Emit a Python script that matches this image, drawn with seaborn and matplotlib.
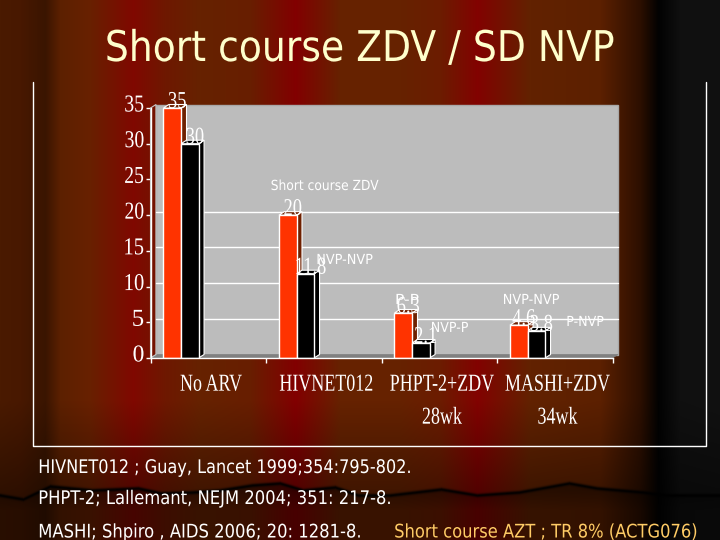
import numpy as np
import pandas as pd
import matplotlib
matplotlib.use("Agg")
import matplotlib.pyplot as plt
import seaborn as sns
from matplotlib.patches import Polygon
from matplotlib.lines import Line2D
from matplotlib.patheffects import AbstractPathEffect
from matplotlib.transforms import Affine2D, ScaledTranslation

# ---- data ----
studies = ["No ARV", "HIVNET012", "PHPT-2+ZDV\n28wk", "MASHI+ZDV\n34wk"]
short_course = [35, 20, 6.3, 4.6]
nvp_arm = [30, 11.8, 2.1, 3.8]
series_names = ["Short course ZDV", "NVP"]
y_ticks = [0, 5, 10, 15, 20, 25, 30, 35]
grid_values = [5, 10, 15, 20]
title = "Short course ZDV / SD NVP"

W, H = 720, 540
sns.set_theme(style="white")
plt.rcParams["font.family"] = ["DejaVu Sans"]


class Fit(AbstractPathEffect):
    """Squeeze a text horizontally (the reference type is very tightly set)."""
    def __init__(self, width=None, sx=None, anchor="center"):
        super().__init__()
        self.width, self.sx, self.anchor = width, sx, anchor

    def draw_path(self, renderer, gc, tpath, affine, rgbFace=None):
        bb = tpath.get_extents(affine)
        sx = self.sx if self.sx else self.width / max(bb.width, 1e-6)
        cx = {"left": bb.x0, "right": bb.x1, "center": (bb.x0 + bb.x1) / 2}[self.anchor]
        new = affine + Affine2D().translate(-cx, 0).scale(sx, 1).translate(cx, 0)
        renderer.draw_path(gc, tpath, new, rgbFace)


fig = plt.figure(figsize=(W / 100, H / 100), dpi=100)

# ---- curtain background ----
bg = fig.add_axes([0, 0, 1, 1], zorder=-5)
xs = np.arange(W)
stops_x = [0, 20, 45, 60, 90, 133, 165, 200, 250, 295, 340, 400, 440, 477, 530, 600, 640, 658, 680, 720]
stops_c = np.array([
    [0x4a, 0x1a, 0x00], [0x48, 0x18, 0x00], [0x3a, 0x15, 0x00], [0x5c, 0x20, 0x00], [0x68, 0x20, 0x00],
    [0x80, 0x08, 0x00], [0x6e, 0x18, 0x00], [0x66, 0x22, 0x00], [0x68, 0x1e, 0x00], [0x82, 0x00, 0x00],
    [0x66, 0x22, 0x00], [0x66, 0x22, 0x00], [0x6c, 0x1c, 0x00], [0x82, 0x02, 0x00], [0x62, 0x22, 0x00],
    [0x5c, 0x20, 0x00], [0x2c, 0x0f, 0x00], [0x02, 0x02, 0x02], [0x10, 0x10, 0x10], [0x11, 0x11, 0x11]], float)
row = np.stack([np.interp(xs, stops_x, stops_c[:, i]) for i in range(3)], axis=1)
ys = np.arange(H)[:, None]
edge_x = [0, 23, 50, 92, 138, 161, 193, 220, 252, 280, 303, 335, 358, 390, 441, 477, 519, 569, 597, 643, 666, 720]
edge_y = [495, 499, 486, 490, 488, 493, 492, 490, 485, 483, 490, 487, 495, 495, 489, 495, 492, 483, 488, 492, 495, 495]
edge = np.interp(xs, edge_x, edge_y)[None, :]
shade = np.interp(ys, [0, 400, 495], [1.0, 1.0, 0.62]) * np.ones((H, W))
below = ys > edge
shade[below] = (np.interp(ys * np.ones((H, W)), [490, 510, 540], [0.4, 0.55, 0.55]))[below]
dark = np.exp(-((ys - edge) / 1.8) ** 2)
shade = shade * (1 - 0.9 * dark)
img = (row[None, :, :] * shade[:, :, None]).clip(0, 255).astype(np.uint8)
bg.imshow(img, aspect="auto", extent=(0, W, H, 0), interpolation="bilinear")
bg.axis("off")

# ---- chart ----
L, R, T, B = 150.5, 612.5, 108, 358
ax = fig.add_axes([L / W, (H - B) / H, (R - L) / W, (B - T) / H], facecolor="none")
df = pd.DataFrame({
    "study": studies * 2,
    "value": short_course + nvp_arm,
    "arm": [series_names[0]] * 4 + [series_names[1]] * 4,
})
sns.barplot(data=df, x="study", y="value", hue="arm", palette=["#ff3300", "#000000"],
            width=0.304, gap=0, saturation=1, errorbar=None, legend=False, ax=ax,
            edgecolor="white", linewidth=1, zorder=4)

xmin = (L - 181) / 115.5
xmax = xmin + 4
ax.set_xlim(xmin, xmax)
ax.set_ylim(0, 35)
ax.set_xlabel("")
ax.set_ylabel("")
px_x = (xmax - xmin) / (R - L)
px_y = 35 / (B - T)
dx, dy = 5.5 * px_x, 3.5 * px_y

# back wall, floor, side panel
ax.add_patch(Polygon([(xmin + dx, dy), (xmax + dx, dy), (xmax + dx, 35 + dy), (xmin + dx, 35 + dy)],
                     closed=True, fc="#bcbcbc", ec="#a8a8a8", lw=1, zorder=0.5, clip_on=False))
ax.add_patch(Polygon([(xmin, 0), (xmax, 0), (xmax + dx, dy), (xmin + dx, dy)],
                     closed=True, fc="#808080", ec="#808080", lw=0.5, zorder=0.7, clip_on=False))
ax.add_patch(Polygon([(xmin, 0), (xmin + dx, dy), (xmin + dx, 35 + dy), (xmin, 35)],
                     closed=True, fc="none", ec="#c8c8c8", lw=0.8, zorder=0.7, clip_on=False))
for v in grid_values:
    ax.plot([xmin + dx, xmax + dx], [v + dy, v + dy], color="white", lw=1, zorder=1, clip_on=False)

# 3-D sides of bars and value labels
for p in ax.patches:
    if not hasattr(p, "get_width") or p.get_zorder() != 4:
        continue
    x0, w, h = p.get_x(), p.get_width(), p.get_height()
    red = p.get_facecolor()[0] > 0.5
    fc = "#6e2000" if red else "#000000"
    ax.add_patch(Polygon([(x0 + w, 0), (x0 + w + dx, dy), (x0 + w + dx, h + dy), (x0 + w, h)],
                         closed=True, fc=fc, ec="white", lw=0.8, zorder=3, clip_on=False))
    ax.add_patch(Polygon([(x0, h), (x0 + w, h), (x0 + w + dx, h + dy), (x0 + dx, h + dy)],
                         closed=True, fc=fc, ec="white", lw=0.8, zorder=3, clip_on=False))
    t = ax.annotate(f"{h:g}", xy=(x0 + w / 2, h), xytext=(5 * 0.72, 0), textcoords="offset points",
                    ha="center", va="baseline", color="white", family="Liberation Serif",
                    fontsize=17.5, zorder=6, annotation_clip=False)
    t.set_path_effects([Fit(sx=0.76)])

# axes furniture
for s in ["top", "right"]:
    ax.spines[s].set_visible(False)
for s in ["left", "bottom"]:
    ax.spines[s].set_color("white")
    ax.spines[s].set_linewidth(1)
    ax.spines[s].set_zorder(5)

ax.set_yticks(y_ticks)
ax.tick_params(axis="y", length=3.5, width=1, color="white", pad=1, labelcolor="white", left=True)
for lab in ax.get_yticklabels():
    lab.set_family("Liberation Serif")
    lab.set_fontsize(17.5)
    lab.set_path_effects([Fit(width=18 if len(lab.get_text()) > 1 else 10, anchor="right")])
    lab.set_transform(lab.get_transform() + ScaledTranslation(0, 4.5 / 100, fig.dpi_scale_trans))

edges = xmin + np.arange(5)
ax.set_xticks((edges[:-1] + edges[1:]) / 2, studies)
ax.set_xticks(edges, minor=True)
ax.tick_params(axis="x", which="major", length=0, pad=12, labelcolor="white")
ax.tick_params(axis="x", which="minor", length=3.5, width=1, color="white", bottom=True)
for lab in ax.get_xticklabels():
    lab.set_family("Liberation Serif")
    lab.set_fontsize(17.5)
    lab.set_linespacing(1.75)
    lab.set_path_effects([Fit(sx=0.74)])
    lab.set_transform(lab.get_transform() + ScaledTranslation(2.5 / 100, 0, fig.dpi_scale_trans))


def label(x, y, s, width, size, color, anchor="center", va="center", family="DejaVu Sans"):
    ha = {"left": "left", "center": "center"}[anchor]
    t = fig.text(x / W, 1 - y / H, s, color=color, fontsize=size, ha=ha, va=va, family=family, zorder=8)
    t.set_path_effects([Fit(width=width, anchor=anchor)])
    return t


# series annotations
ink = "#ffffff"
label(324.5, 186, "Short course ZDV", 107, 10, ink)
label(344.5, 260, "NVP-NVP", 55, 10, ink)
label(407, 300, "P-P", 22, 10, ink)
label(449.5, 328, "NVP-P", 36, 10, ink)
label(531, 300, "NVP-NVP", 55, 10, ink)
label(585, 322, "P-NVP", 36, 10, ink)

# title and references
label(360, 61, title, 506, 30.5, "#ffffcc", va="baseline")
white = "#ffffff"
label(38, 473, "HIVNET012 ; Guay, Lancet 1999;354:795-802.", 370, 13.5, white, anchor="left", va="baseline")
label(38, 504, "PHPT-2; Lallemant, NEJM 2004; 351: 217-8.", 350, 13.5, white, anchor="left", va="baseline")
label(38, 537.5, "MASHI; Shpiro , AIDS 2006; 20: 1281-8.", 320, 13.5, white, anchor="left", va="baseline")
label(394, 537.5, "Short course AZT ; TR 8% (ACTG076)", 301, 13.5, "#ffcc66", anchor="left", va="baseline")

# outer frame (open at the top)
frame_x = [33 / W, 33 / W, 706 / W, 706 / W]
frame_y = [1 - 82 / H, 1 - 446 / H, 1 - 446 / H, 1 - 82 / H]
fig.add_artist(Line2D(frame_x, frame_y, color="white", lw=1, zorder=7))

fig.savefig("out.png", dpi=100)
